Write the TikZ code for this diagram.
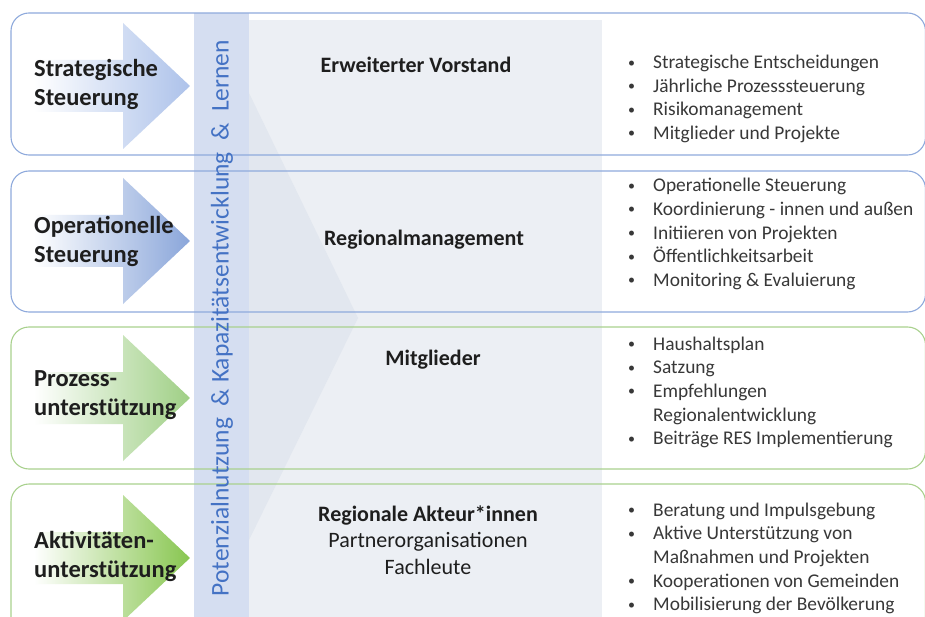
\documentclass[tikz,border=0pt]{standalone}
\usepackage{fontspec}
\setmainfont{Carlito}
\definecolor{boxblue}{HTML}{8FAADC}
\definecolor{boxgreen}{HTML}{A9D18E}
\definecolor{panel}{HTML}{ECEFF4}
\definecolor{chev}{HTML}{E2E7EF}
\definecolor{barfill}{HTML}{D5DEF1}
\definecolor{bartext}{HTML}{4472C4}
\definecolor{arrA}{HTML}{ADC2EA}
\definecolor{arrB}{HTML}{8AA6DA}
\definecolor{arrC}{HTML}{9FCF85}
\definecolor{arrD}{HTML}{88C650}
\definecolor{txt}{HTML}{1E1E1E}
\definecolor{btxt}{HTML}{383838}
\newcommand{\bl}{\makebox[25pt][l]{\raisebox{1.6pt}{\fontsize{14}{14}\selectfont •}}}
\newcommand{\ind}{\hspace*{25pt}}
\begin{document}
\begin{tikzpicture}[x=1pt,y=-1pt,
  lbl/.style={font=\fontsize{24.5}{29}\selectfont\bfseries, align=left, inner sep=0pt, text=txt, anchor=west},
  ctitle/.style={font=\fontsize{22}{26.5}\selectfont\bfseries, align=center, inner sep=0pt, text=txt},
  csub/.style={font=\fontsize{22}{26.5}\selectfont, align=center, inner sep=0pt, text=txt},
  blist/.style={font=\fontsize{19.4}{23.6}\selectfont, align=left, inner sep=0pt, text=btxt, anchor=west},
  boxline/.style={line width=1.1pt, rounded corners=18pt}]
\useasboundingbox (0,0) rectangle (925,617);
\clip (0,0) rectangle (925,617);
% box fills
\foreach \t/\b in {13/155,171/312,327/469,484/660}
  \fill[white, rounded corners=18pt] (11,\t) rectangle (925.5,\b);
% grey panel, chevron, vertical bar
\fill[panel] (249,20) rectangle (602,630);
\fill[chev] (249,93) -- (358,318) -- (249,540) -- cycle;
\fill[barfill] (194,13) rectangle (249,630);
% box outlines
\foreach \t/\b/\c in {13/155/boxblue,171/312/boxblue,327/469/boxgreen,484/660/boxgreen}
  \draw[boxline, draw=\c] (11,\t) rectangle (925.5,\b);
% arrows
\foreach \y/\c in {86/arrA,241/arrB,398/arrC,558/arrD}
  \shade[left color=white, right color=\c]
    (34,{\y-26}) -- (123,{\y-26}) -- (123,{\y-63}) -- (190,\y)
    -- (123,{\y+63}) -- (123,{\y+26}) -- (34,{\y+26}) -- cycle;
% left labels
\node[lbl] (l1) at (34,84) {Strategische\\Steuerung};
\node[lbl] (l2) at (34,241) {Operationelle\\Steuerung};
\node[lbl] (l3) at (34,395) {Prozess-\\unterstützung};
\node[lbl] (l4) at (34,556) {Aktivitäten-\\unterstützung};
% vertical bar text
\node[rotate=90, inner sep=0pt, text=bartext, font=\fontsize{25.5}{30}\selectfont] (bt) at (222,318)
  {Potenzialnutzung\ \ \& Kapazitätsentwicklung\ \ \& \ Lernen};
% centre titles
\node[ctitle] (c1) at (416,65) {Erweiterter Vorstand};
\node[ctitle] (c2) at (424,240) {Regionalmanagement};
\node[ctitle] (c3) at (433,360) {Mitglieder};
\node[csub] (c4) at (428,540) {\textbf{Regionale Akteur*innen}\\Partnerorganisationen\\Fachleute};
% bullet lists
\node[blist] (b1) at (628,99) {\bl Strategische Entscheidungen\\\bl Jährliche Prozesssteuerung\\\bl Risikomanagement\\\bl Mitglieder und Projekte};
\node[blist] (b2) at (628,234) {\bl Operationelle Steuerung\\\bl Koordinierung - innen und außen\\\bl Initiieren von Projekten\\\bl Öffentlichkeitsarbeit\\\bl Monitoring \& Evaluierung};
\node[blist] (b3) at (628,392.5) {\bl Haushaltsplan\\\bl Satzung\\\bl Empfehlungen\\\ind Regionalentwicklung\\\bl Beiträge RES Implementierung};
\node[blist] (b4) at (628,558.5) {\bl Beratung und Impulsgebung\\\bl Aktive Unterstützung von\\\ind Maßnahmen und Projekten\\\bl Kooperationen von Gemeinden\\\bl Mobilisierung der Bevölkerung};
\end{tikzpicture}
\end{document}
